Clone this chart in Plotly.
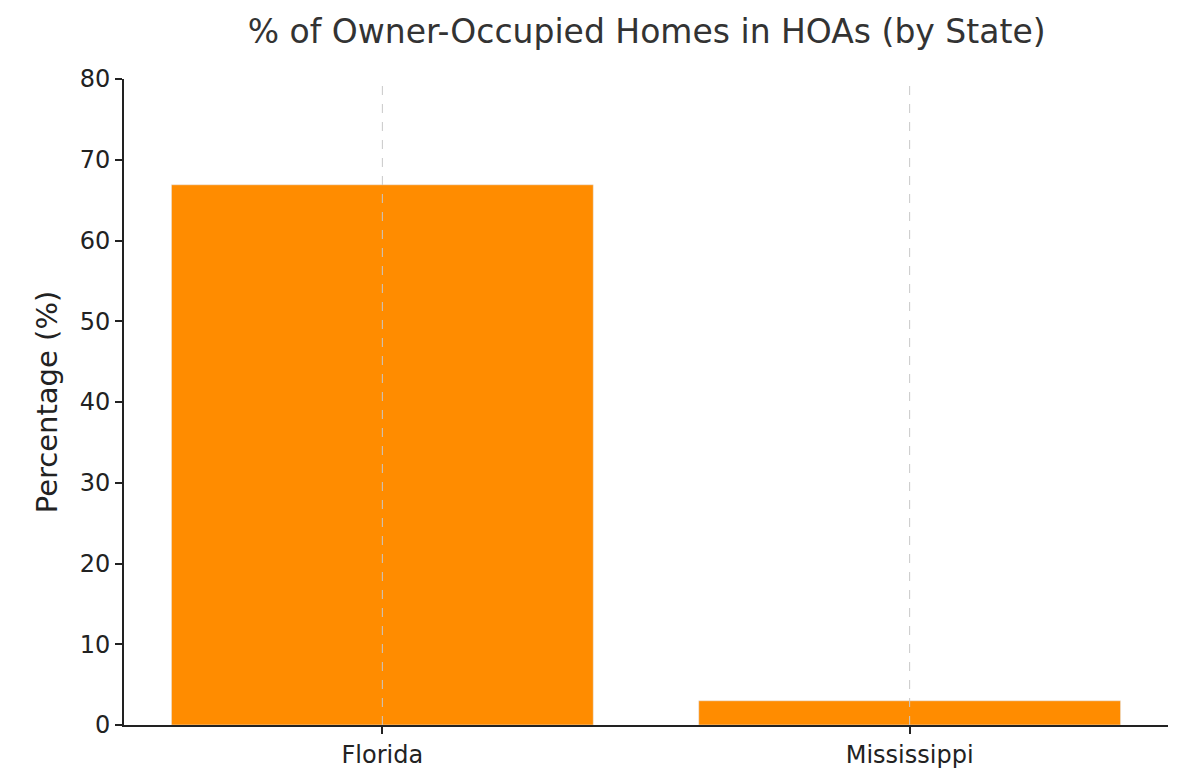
import plotly.graph_objects as go

states = ["Florida", "Mississippi"]
percentages = [66.9, 3.0]

fig = go.Figure(go.Bar(x=states, y=percentages, marker_color="#ff8c00", width=0.8))

# dashed vertical gridlines drawn above the bars
for s in states:
    fig.add_vline(x=s, line=dict(color="#c8c8c8", width=1, dash="dash"), layer="above")

fig.update_layout(
    width=1196, height=780,
    plot_bgcolor="white", paper_bgcolor="white",
    font=dict(family="DejaVu Sans", size=24, color="#222222"),
    title=dict(text="% of Owner-Occupied Homes in HOAs (by State)", x=0.534, xanchor="center",
               y=0.985, yanchor="top", font=dict(size=33, color="#333333")),
    margin=dict(l=116, r=36, t=71, b=63),
    showlegend=False,
    bargap=0.2,
)
fig.update_xaxes(range=[-0.49, 1.49], showline=True, linecolor="#222222", linewidth=2,
                 ticks="outside", ticklen=7, tickwidth=1.5, tickcolor="#222222", showgrid=False)
fig.update_yaxes(range=[0, 80], dtick=10, showline=True, linecolor="#222222", linewidth=2,
                 ticks="outside", ticklen=7, tickwidth=1.5, tickcolor="#222222", showgrid=False,
                 zeroline=False, title=dict(text="Percentage (%)", standoff=14))

fig.write_html("out.html")
